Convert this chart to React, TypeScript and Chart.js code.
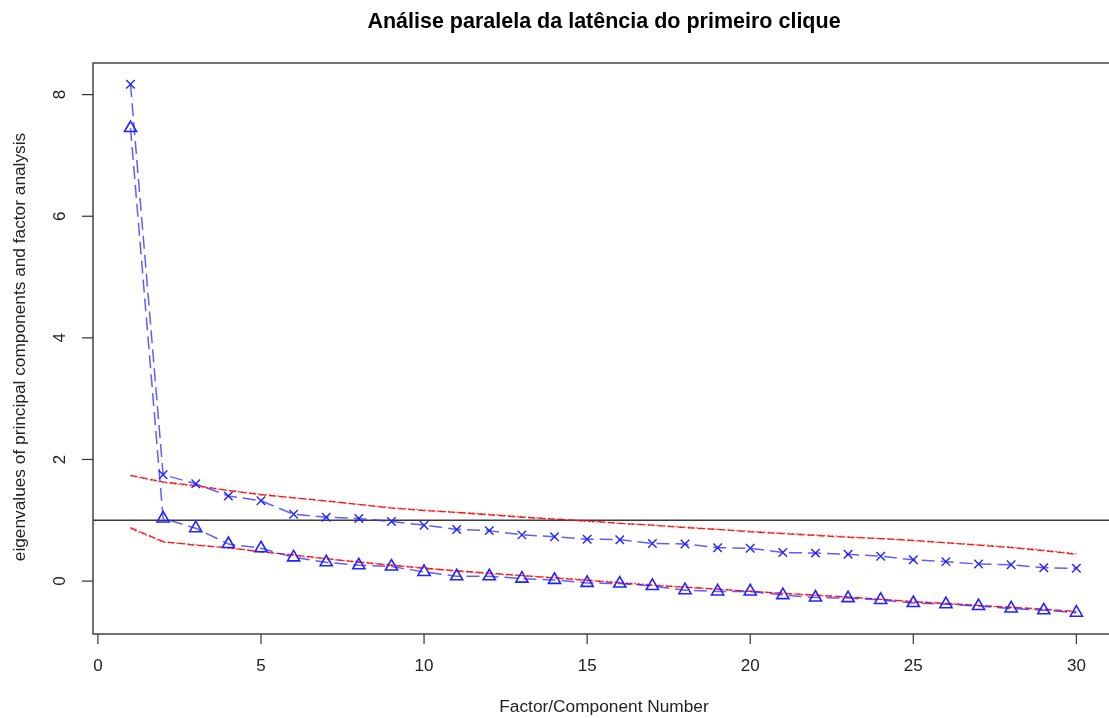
import React, { useEffect, useRef } from "react";
import { Chart, registerables } from "chart.js";

Chart.register(...registerables);

const TITLE = "Análise paralela da latência do primeiro clique";
const X_TITLE = "Factor/Component Number";
const Y_TITLE = "eigenvalues of principal components and factor analysis";

const factors = [1, 2, 3, 4, 5, 6, 7, 8, 9, 10, 11, 12, 13, 14, 15, 16, 17, 18, 19, 20, 21, 22, 23, 24, 25, 26, 27, 28, 29, 30];
const pcActual = [8.17, 1.75, 1.6, 1.4, 1.32, 1.1, 1.05, 1.03, 0.98, 0.92, 0.85, 0.83, 0.76, 0.73, 0.69, 0.68, 0.62, 0.61, 0.55, 0.54, 0.47, 0.46, 0.44, 0.41, 0.35, 0.32, 0.28, 0.27, 0.22, 0.21];
const faActual = [7.45, 1.03, 0.87, 0.61, 0.54, 0.39, 0.31, 0.26, 0.24, 0.15, 0.08, 0.08, 0.04, 0.02, -0.03, -0.04, -0.08, -0.15, -0.17, -0.17, -0.23, -0.27, -0.28, -0.31, -0.36, -0.38, -0.41, -0.45, -0.48, -0.52];
const pcSimulated = [1.74, 1.63, 1.57, 1.49, 1.42, 1.37, 1.32, 1.26, 1.2, 1.16, 1.13, 1.09, 1.05, 1.02, 0.99, 0.95, 0.92, 0.88, 0.85, 0.81, 0.78, 0.75, 0.72, 0.7, 0.67, 0.63, 0.59, 0.55, 0.5, 0.44];
const pcResampled = [1.73, 1.62, 1.56, 1.49, 1.43, 1.37, 1.31, 1.26, 1.21, 1.17, 1.13, 1.1, 1.06, 1.02, 0.98, 0.95, 0.92, 0.89, 0.85, 0.82, 0.79, 0.76, 0.73, 0.7, 0.66, 0.63, 0.6, 0.56, 0.51, 0.45];
const faSimulated = [0.88, 0.65, 0.59, 0.55, 0.48, 0.43, 0.37, 0.31, 0.26, 0.21, 0.17, 0.13, 0.09, 0.05, 0.01, -0.03, -0.07, -0.1, -0.13, -0.17, -0.2, -0.23, -0.26, -0.3, -0.34, -0.37, -0.4, -0.43, -0.46, -0.5];
const faResampled = [0.86, 0.64, 0.6, 0.54, 0.49, 0.42, 0.36, 0.32, 0.27, 0.22, 0.16, 0.12, 0.09, 0.06, 0.02, -0.02, -0.06, -0.1, -0.14, -0.16, -0.2, -0.24, -0.27, -0.3, -0.33, -0.36, -0.4, -0.44, -0.47, -0.51];
const xTicks = [0, 5, 10, 15, 20, 25, 30];
const yTicks = [0, 2, 4, 6, 8];
const referenceLine = 1;

const FONT = '"Liberation Sans", Arial, sans-serif';

const pts = (ys: number[]) => factors.map((x, i) => ({ x, y: ys[i] }));

const decorPlugin = {
  id: "rdecor",
  beforeDatasetsDraw(chart: any) {
    const { ctx, chartArea, scales } = chart;
    const y1 = scales.y.getPixelForValue(referenceLine);
    ctx.save();
    ctx.strokeStyle = "#3a3a3a";
    ctx.lineWidth = 1.5;
    ctx.beginPath();
    ctx.moveTo(chartArea.left, y1);
    ctx.lineTo(chartArea.right, y1);
    ctx.stroke();
    ctx.restore();
  },
  afterDraw(chart: any) {
    const { ctx, chartArea, scales } = chart;
    const xs = scales.x;
    const ys = scales.y;
    ctx.save();
    ctx.strokeStyle = "#444";
    ctx.lineWidth = 1.5;
    ctx.beginPath();
    ctx.moveTo(chartArea.right + 2, chartArea.top);
    ctx.lineTo(chartArea.left, chartArea.top);
    ctx.lineTo(chartArea.left, chartArea.bottom);
    ctx.lineTo(chartArea.right + 2, chartArea.bottom);
    ctx.stroke();
    ctx.strokeStyle = "#333";
    ctx.lineWidth = 1.2;
    ctx.fillStyle = "#222";
    ctx.font = `17px ${FONT}`;
    ctx.textAlign = "center";
    ctx.textBaseline = "middle";
    xTicks.forEach((t) => {
      const px = xs.getPixelForValue(t);
      ctx.beginPath();
      ctx.moveTo(px, chartArea.bottom);
      ctx.lineTo(px, chartArea.bottom + 10);
      ctx.stroke();
      ctx.fillText(String(t), px, chartArea.bottom + 32);
    });
    yTicks.forEach((t) => {
      const py = ys.getPixelForValue(t);
      ctx.beginPath();
      ctx.moveTo(chartArea.left, py);
      ctx.lineTo(chartArea.left - 11, py);
      ctx.stroke();
      ctx.save();
      ctx.translate(chartArea.left - 33, py);
      ctx.rotate(-Math.PI / 2);
      ctx.fillText(String(t), 0, 0);
      ctx.restore();
    });
    ctx.font = `bold 21.5px ${FONT}`;
    ctx.fillStyle = "#000";
    ctx.fillText(TITLE, 604, 22);
    ctx.font = `17.3px ${FONT}`;
    ctx.fillStyle = "#222";
    ctx.fillText(X_TITLE, 604, 707);
    ctx.save();
    ctx.translate(20, 347);
    ctx.rotate(-Math.PI / 2);
    ctx.fillText(Y_TITLE, 0, 0);
    ctx.restore();
    ctx.restore();
  },
};

export default function App() {
  const ref = useRef<HTMLCanvasElement | null>(null);
  useEffect(() => {
    document.body.style.margin = "0";
    const canvas = ref.current!;
    const blueLine = "rgba(40,40,255,0.75)";
    const chart = new Chart(canvas, {
      type: "line",
      data: {
        datasets: [
          {
            label: "PC Actual Data",
            data: pts(pcActual),
            borderColor: blueLine,
            borderWidth: 1.5,
            borderDash: [13, 6],
            pointStyle: "crossRot",
            pointRadius: 6,
            pointBorderColor: "#2222ff",
            pointBorderWidth: 1.4,
            pointBackgroundColor: "transparent",
            fill: false,
          },
          {
            label: "FA Actual Data",
            data: pts(faActual),
            borderColor: blueLine,
            borderWidth: 1.5,
            borderDash: [13, 6],
            pointStyle: "triangle",
            pointRadius: 7,
            pointBorderColor: "#2222ff",
            pointBorderWidth: 1.6,
            pointBackgroundColor: "transparent",
            fill: false,
          },
          {
            label: "PC Simulated Data",
            data: pts(pcSimulated),
            borderColor: "rgba(255,0,0,0.9)",
            borderWidth: 1.3,
            borderDash: [7, 3],
            pointRadius: 0,
            fill: false,
          },
          {
            label: "PC Resampled Data",
            data: pts(pcResampled),
            borderColor: "rgba(255,40,40,0.7)",
            borderWidth: 1.3,
            borderDash: [2, 2],
            pointRadius: 0,
            fill: false,
          },
          {
            label: "FA Simulated Data",
            data: pts(faSimulated),
            borderColor: "rgba(255,0,0,0.9)",
            borderWidth: 1.3,
            borderDash: [7, 3],
            pointRadius: 0,
            fill: false,
          },
          {
            label: "FA Resampled Data",
            data: pts(faResampled),
            borderColor: "rgba(255,40,40,0.7)",
            borderWidth: 1.3,
            borderDash: [2, 2],
            pointRadius: 0,
            fill: false,
          },
        ],
      },
      options: {
        responsive: false,
        animation: false,
        layout: { autoPadding: false, padding: { left: 93, top: 63, right: 0, bottom: 84 } },
        plugins: {
          legend: { display: false },
          title: { display: false },
          tooltip: { enabled: false },
        },
        scales: {
          x: { type: "linear", min: -0.15, max: 31.0, display: false },
          y: { type: "linear", min: -0.87, max: 8.52, display: false },
        },
      },
      plugins: [decorPlugin],
    });
    return () => chart.destroy();
  }, []);
  return (
    <div style={{ width: 1109, height: 718, background: "#fff" }}>
      <canvas ref={ref} width={1109} height={718} style={{ display: "block" }} />
    </div>
  );
}
